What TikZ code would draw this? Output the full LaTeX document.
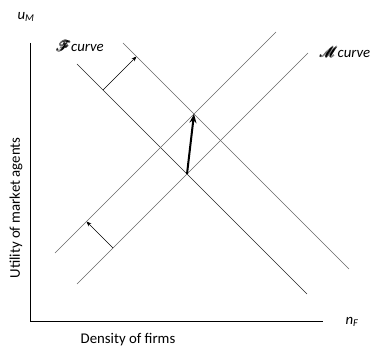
\documentclass[tikz,border=0pt]{standalone}
\usepackage{fontspec}
\setmainfont{Carlito}
\usepackage{amsmath}
\usepackage{mathrsfs}
\usetikzlibrary{arrows.meta}
\begin{document}
\begin{tikzpicture}[x=1pt,y=-1pt,
  axis/.style={line width=0.9pt, draw=black},
  curveline/.style={line width=0.6pt, draw=black!60},
  curvedark/.style={line width=0.6pt, draw=black!85},
  shiftarrow/.style={line width=0.6pt, draw=black, -{Stealth[length=5pt,width=4pt]}},
  movearrow/.style={line width=2pt, draw=black, -{Stealth[length=9pt,width=7pt]}},
  lbl/.style={font=\fontsize{14.8}{17}\selectfont, inner sep=0pt}]
\useasboundingbox (0,0) rectangle (375,350);
% axes
\coordinate (O) at (30,321);
\coordinate (Ytop) at (30,43);
\coordinate (Xend) at (323,321);
\draw[axis] (Ytop) -- (O) -- (Xend);
% F curves
\coordinate (F1a) at (77,64);
\coordinate (F1b) at (307,294);
\coordinate (F2a) at (123,43);
\coordinate (F2b) at (349,269);
\draw[curvedark] (F1a) -- (F1b);
\draw[curveline] (F2a) -- (F2b);
% M curves
\coordinate (M1a) at (55,253);
\coordinate (M1b) at (276,32);
\coordinate (M2a) at (77,284);
\coordinate (M2b) at (308,53);
\draw[curveline] (M1a) -- (M1b);
\draw[curveline] (M2a) -- (M2b);
% shift arrows
\coordinate (FsS) at (103,90);
\coordinate (FsE) at (136.5,56.5);
\draw[shiftarrow] (FsS) -- (FsE);
\coordinate (MsS) at (113,248);
\coordinate (MsE) at (86.5,221.5);
\draw[shiftarrow] (MsS) -- (MsE);
% equilibrium move
\coordinate (E1) at (intersection of F1a--F1b and M2a--M2b);
\coordinate (E2) at (intersection of F2a--F2b and M1a--M1b);
\draw[movearrow] (E1) -- (E2);
% labels
\node[lbl] (uM) at (26,17) {\itshape u\textsubscript{M}};
\node[lbl] (nF) at (352,322) {\itshape n\textsubscript{F}};
\node[lbl] (xlab) at (128,340) {Density of firms};
\node[lbl, rotate=90] (ylab) at (16,208) {Utility of market agents};
\node[lbl] (Flab) at (80,46) {$\pmb{\mathscr{F}}$\textit{curve}};
\node[lbl] (Mlab) at (345,52) {$\pmb{\mathscr{M}}$\textit{curve}};
\end{tikzpicture}
\end{document}
